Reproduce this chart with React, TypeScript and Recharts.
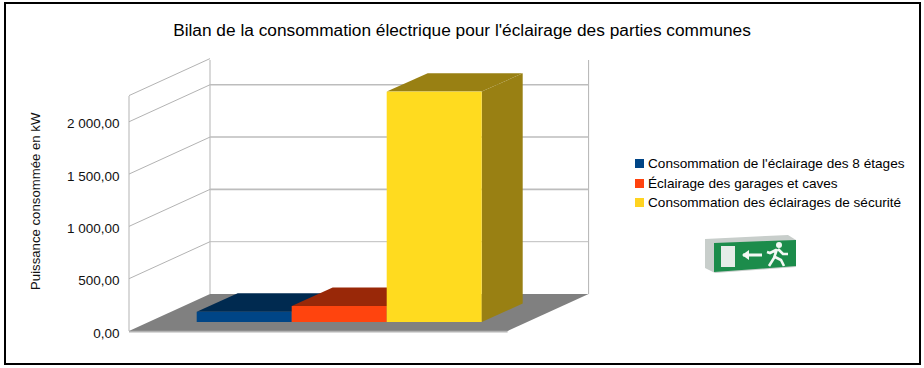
import { Bar, BarChart, CartesianGrid, Legend, XAxis, YAxis } from 'recharts'

const categories = ['Bilan']
const seriesNames = [
  "Consommation de l'éclairage des 8 étages",
  'Éclairage des garages et caves',
  'Consommation des éclairages de sécurité',
]
const seriesValues = [98, 153, 2202]
const seriesColors = ['#004586', '#ff440e', '#ffdb1f']
const seriesTopColors = ['#002a50', '#992808', '#998013']
const legendColors = ['#004586', '#ff420e', '#ffd320']
const yTicks = [0, 500, 1000, 1500, 2000]
const gridValues = [0, 500, 1000, 1500, 2000, 2250]

const chartTitle = "Bilan de la consommation électrique pour l'éclairage des parties communes"
const yAxisTitle = 'Puissance consommée en kW'
const font = '"Liberation Sans", Arial, sans-serif'

const data = categories.map((name) => {
  const row: Record<string, string | number> = { name }
  seriesNames.forEach((s, i) => {
    row[s] = seriesValues[i]
  })
  return row
})

// oblique projection, the bars stand in the middle of the floor depth
const BAR_DX = 41
const BAR_DY = 18.4
const FRONT_DX = -20.7
const FRONT_DY = 9
const BACK_DX = 60.3
const BACK_DY = -28

function WallLine(props: any) {
  const { x1, x2, y1, index } = props
  const isTop = y1 < 90
  const isFloor = y1 > 300
  const fx = x1 + FRONT_DX
  const fy = y1 + FRONT_DY
  const bx = x1 + BACK_DX
  const by = y1 + BACK_DY
  const bxEnd = x2 + BACK_DX
  return (
    <g key={`wall-${index}-${y1}`}>
      {isFloor && (
        <>
          <line x1={fx} y1={fy} x2={fx} y2={96} stroke="#b3b3b3" />
          <line x1={bx} y1={by} x2={bx} y2={60} stroke="#b3b3b3" />
          <line x1={bxEnd} y1={by} x2={bxEnd} y2={60} stroke="#b3b3b3" />
          <polygon
            points={`${fx},${fy} ${bx},${by} ${bxEnd},${by} ${x2 + FRONT_DX},${fy}`}
            fill="#808080"
          />
          <line x1={fx} y1={fy + 0.6} x2={x2 + FRONT_DX} y2={fy + 0.6} stroke="#b3b3b3" strokeWidth={1.6} />
        </>
      )}
      {!isFloor && (
        <line x1={fx} y1={fy} x2={bx} y2={by} stroke="#b3b3b3" />
      )}
      {!isFloor && !isTop && (
        <line x1={bx} y1={by} x2={bxEnd} y2={by} stroke="#bdbdbd" strokeWidth={y1 > 250 ? 1 : 1.6} />
      )}
    </g>
  )
}

function Bar3D(props: any) {
  const { x, y, width, height, fill, index, topFill } = props
  return (
    <g key={index}>
      <polygon
        points={`${x},${y} ${x + BAR_DX},${y - BAR_DY} ${x + width + BAR_DX},${y - BAR_DY} ${x + width},${y}`}
        fill={topFill}
      />
      <polygon
        points={`${x + width},${y} ${x + width + BAR_DX},${y - BAR_DY} ${x + width + BAR_DX},${y + height - BAR_DY} ${x + width},${y + height}`}
        fill={topFill}
      />
      <rect x={x} y={y} width={width} height={height} fill={fill} />
    </g>
  )
}

function AxisTick({ y, payload }: any) {
  const label = payload.value === 0
    ? '0,00'
    : `${new Intl.NumberFormat('fr-FR').format(payload.value).replace(/\s/g, ' ')},00`
  return (
    <text x={119.5} y={y + FRONT_DY + 6.5} textAnchor="end" fontFamily={font} fontSize={13.5} fill="#111">
      {label}
    </text>
  )
}

function LegendBox({ payload }: any) {
  return (
    <div style={{ fontFamily: font, fontSize: 13.6, color: '#000' }}>
      {payload?.map((entry: any, i: number) => (
        <div key={entry.value} style={{ display: 'flex', alignItems: 'center', height: 19.5, whiteSpace: 'nowrap' }}>
          <span style={{ width: 9, height: 9, marginRight: 4, background: legendColors[i] }} />
          {entry.value}
        </div>
      ))}
    </div>
  )
}

function ExitSign() {
  return (
    <svg width={100} height={50} style={{ position: 'absolute', left: 700, top: 228 }}>
      <defs>
        <filter id="soft">
          <feGaussianBlur stdDeviation={0.5} />
        </filter>
      </defs>
      <g filter="url(#soft)">
        <polygon points="5,11 88,7 96,12 96,39 15,45 5,40" fill="#c8cecb" />
        <polygon points="14,15 96,12 96,38 14,44" fill="#1c8c4c" />
        <rect x={21} y={18} width={14} height={21} fill="#e6ece8" />
        <path d="M43 27 L62 27" stroke="#f4f8f4" strokeWidth={3} fill="none" />
        <path d="M42 27 L49 22 L49 32 Z" fill="#f4f8f4" />
        <circle cx={79} cy={17} r={3} fill="#f4f8f4" />
        <path
          d="M77 21 L74 30 L69 38 M75 29 L81 32 L84 38 M78 21 L83 26 L88 26 M76 22 L70 25 L67 24"
          stroke="#f4f8f4"
          strokeWidth={2.6}
          fill="none"
        />
      </g>
    </svg>
  )
}

export default function App() {
  return (
    <div style={{ position: 'fixed', left: 0, top: 0, width: 924, height: 368, background: '#fff' }}>
      <BarChart
        width={924}
        height={368}
        data={data}
        barSize={95}
        barGap={0}
        margin={{ top: 86.6, right: 395.7, bottom: 46, left: 0 }}
      >
        <CartesianGrid
          vertical={false}
          horizontalValues={gridValues}
          horizontal={(p: any) => <WallLine {...p} />}
        />
        <XAxis dataKey="name" hide />
        <YAxis
          width={149.7}
          domain={[0, 2250]}
          ticks={yTicks}
          interval={0}
          axisLine={false}
          tickLine={false}
          tick={AxisTick}
          label={{
            value: yAxisTitle,
            angle: -90,
            position: 'insideLeft',
            offset: 35,
            dy: -3,
            style: { textAnchor: 'middle', fontFamily: font, fontSize: 13.2, fill: '#111' },
          }}
        />
        <Legend
          layout="horizontal"
          verticalAlign="middle"
          itemSorter={null}
          content={LegendBox}
          wrapperStyle={{ left: 635, top: 154, width: 285, height: 60 }}
        />
        {seriesNames.map((s, i) => (
          <Bar
            key={s}
            dataKey={s}
            fill={seriesColors[i]}
            isAnimationActive={false}
            shape={(p: any) => <Bar3D {...p} topFill={seriesTopColors[i]} />}
          />
        ))}
      </BarChart>
      <div
        style={{
          position: 'absolute',
          left: 0,
          right: 0,
          top: 20,
          textAlign: 'center',
          fontFamily: font,
          fontSize: 17.3,
          color: '#000',
        }}
      >
        {chartTitle}
      </div>
      <ExitSign />
      <div
        style={{
          position: 'absolute',
          left: 4,
          top: 2,
          width: 913,
          height: 359,
          border: '2px solid #000',
          pointerEvents: 'none',
        }}
      />
    </div>
  )
}
